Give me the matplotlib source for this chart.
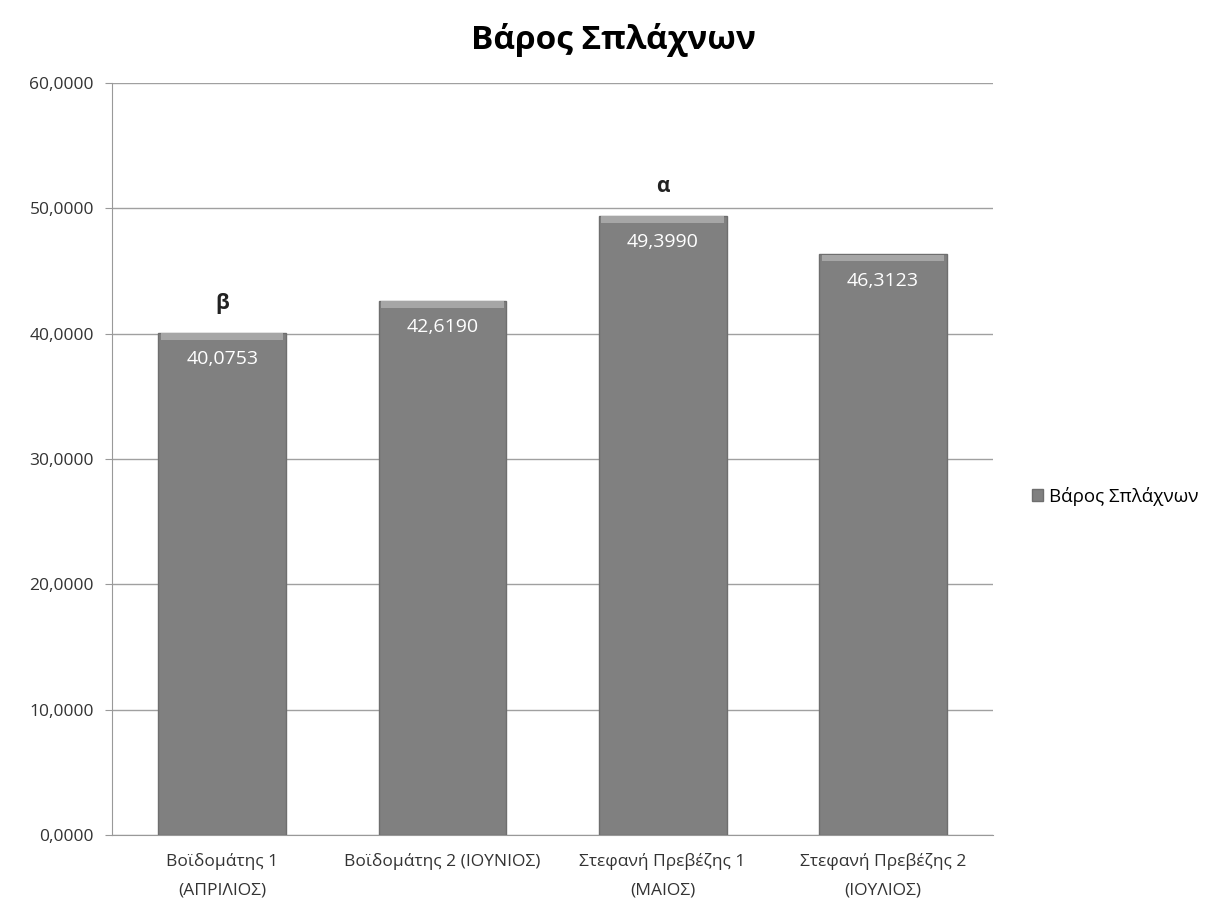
import matplotlib.pyplot as plt

# Data
categories = ['Βοϊδομάτης 1\n(ΑΠΡΙΛΙΟΣ)', 'Βοϊδομάτης 2 (ΙΟΥΝΙΟΣ)',
              'Στεφανή Πρεβέζης 1\n(ΜΑΙΟΣ)', 'Στεφανή Πρεβέζης 2\n(ΙΟΥΛΙΟΣ)']
values = [40.0753, 42.6190, 49.3990, 46.3123]
value_labels = ['40,0753', '42,6190', '49,3990', '46,3123']
letters = ['β', '', 'α', '']
yticks = [0, 10, 20, 30, 40, 50, 60]
ytick_labels = ['0,0000', '10,0000', '20,0000', '30,0000', '40,0000', '50,0000', '60,0000']
series_name = 'Βάρος Σπλάχνων'

plt.rcParams['font.family'] = ['Open Sans', 'DejaVu Sans']

fig = plt.figure(figsize=(12.14, 9.11), dpi=100)
ax = fig.add_axes([0.0923, 0.0834, 0.7257, 0.8256])

x = range(len(categories))
bars = ax.bar(x, values, width=0.58, color='#808080', edgecolor='#6e6e6e',
              linewidth=1, label=series_name, zorder=3)

# light bevel at the top of each bar
for b in bars:
    ax.bar(b.get_x() + b.get_width() / 2, 0.5, bottom=b.get_height() - 0.55,
           width=b.get_width() * 0.96, color='#a6a6a6', linewidth=0, zorder=4)

for i, b in enumerate(bars):
    cx = b.get_x() + b.get_width() / 2
    ax.text(cx, values[i] - 2.1, value_labels[i], ha='center', va='center',
            color='white', fontsize=14, zorder=5)
    if letters[i]:
        ax.text(cx, values[i] + 2.3, letters[i], ha='center', va='center',
                fontsize=15, fontweight='bold', color='#222222')

ax.set_ylim(0, 60)
ax.set_xlim(-0.5, len(categories) - 0.5)
ax.set_yticks(yticks)
ax.set_yticklabels(ytick_labels, fontsize=12.5, color='#333333')
ax.set_xticks(list(x))
ax.set_xticklabels(categories, fontsize=12.5, color='#333333', linespacing=2.0)
ax.tick_params(axis='x', length=0, pad=13)
ax.tick_params(axis='y', length=5, color='#999999', pad=8)
ax.grid(axis='y', color='#a0a0a0', linewidth=1, zorder=0)
for s in ['top', 'right']:
    ax.spines[s].set_visible(False)
ax.spines['left'].set_color('#999999')
ax.spines['bottom'].set_color('#999999')

fig.suptitle(series_name, x=0.505, y=0.975, fontsize=24, fontweight='bold')

handles, labels = ax.get_legend_handles_labels()
fig.legend(handles[:1], labels[:1], loc='center left', bbox_to_anchor=(0.836, 0.455),
           frameon=False, fontsize=13.5, handlelength=0.6, handleheight=0.6,
           handletextpad=0.3)

fig.savefig('out.png', dpi=100)
